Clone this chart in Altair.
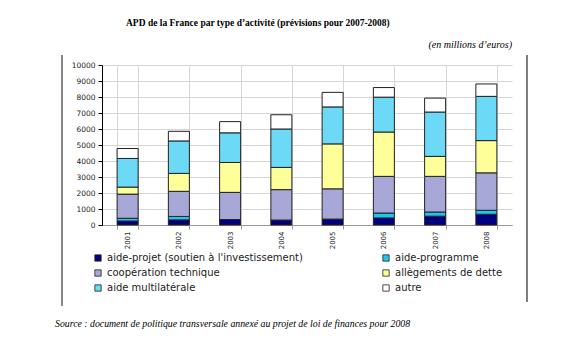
import altair as alt
import pandas as pd

years = ["2001", "2002", "2003", "2004", "2005", "2006", "2007", "2008"]
categories = [
    "aide-projet (soutien à l'investissement)",
    "aide-programme",
    "coopération technique",
    "allègements de dette",
    "aide multilatérale",
    "autre",
]
colors = ["#000080", "#22c4ee", "#a8a8d8", "#ffff99", "#6cdaf7", "#ffffff"]

projet = [250, 320, 340, 310, 370, 440, 550, 670]
programme = [170, 215, 0, 0, 0, 310, 260, 250]
cooperation = [1510, 1570, 1700, 1900, 1890, 2290, 2230, 2340]
allegements = [440, 1120, 1870, 1390, 2810, 2770, 1250, 2015]
multilaterale = [1790, 2030, 1850, 2400, 2310, 2180, 2770, 2765]
autre = [620, 600, 700, 890, 910, 600, 870, 775]
y_ticks = [0, 1000, 2000, 3000, 4000, 5000, 6000, 7000, 8000, 9000, 10000]

title_text = "APD de la France par type d\u2019activité (prévisions pour 2007-2008)"
unit_text = "(en millions d\u2019euros)"
source_text = "Source : document de politique transversale annexé au projet de loi de finances pour 2008"

series = [projet, programme, cooperation, allegements, multilaterale, autre]
rows = []
for ci, (cat, vals) in enumerate(zip(categories, series)):
    for yr, v in zip(years, vals):
        rows.append({"annee": yr, "type": cat, "valeur": v, "ordre": ci})
df = pd.DataFrame(rows)

W, H = 410, 160
PL, PT = 102, 65

bars = alt.Chart(df).mark_bar(stroke="#222222", strokeWidth=1).encode(
    x=alt.X(
        "annee:N", sort=years, title=None,
        scale=alt.Scale(paddingInner=0.59, paddingOuter=0.295),
        axis=alt.Axis(
            labelAngle=270, tickBand="extent", grid=True, gridColor="#d6d6d6",
            domainColor="#999999", tickColor="#999999", tickSize=4,
            labelFont="DejaVu Sans", labelFontSize=7, labelColor="#222222",
            labelPadding=2,
        ),
    ),
    y=alt.Y(
        "valeur:Q", stack="zero", title=None,
        scale=alt.Scale(domain=[0, 10000], nice=False),
        axis=alt.Axis(
            values=y_ticks, format="d", grid=True, gridColor="#d6d6d6",
            domainColor="#000000", tickColor="#000000", tickSize=4,
            labelFont="DejaVu Sans", labelFontSize=7.5, labelColor="#222222",
            labelPadding=3,
        ),
    ),
    color=alt.Color(
        "type:N", sort=categories,
        scale=alt.Scale(domain=categories, range=colors),
        legend=alt.Legend(
            title=None, orient="none", legendX=-9, legendY=188, columns=2,
            direction="horizontal",
            columnPadding=78, rowPadding=5, symbolType="square", symbolSize=40,
            symbolStrokeColor="#222222", symbolStrokeWidth=0.8, labelOffset=4,
            labelFont="DejaVu Sans", labelFontSize=10, labelColor="#222222",
            labelLimit=400, padding=0,
        ),
    ),
    order=alt.Order("ordre:Q", sort="ascending"),
)

def text_layer(txt, x, y, size, weight="normal", style="normal", align="left", font="Liberation Serif"):
    return alt.Chart(pd.DataFrame({"t": [txt]})).mark_text(
        font=font, fontSize=size, fontWeight=weight, fontStyle=style,
        align=align, baseline="middle", color="#000000",
    ).encode(x=alt.value(x), y=alt.value(y), text="t:N")

title = text_layer(title_text, 126 - PL, 23 - PT, 9.5, weight="bold")
unit = text_layer(unit_text, 512 - PL, 45 - PT, 10, style="italic", align="right")
source = text_layer(source_text, 55 - PL, 324 - PT, 9.8, style="italic")

left_frame = alt.Chart(pd.DataFrame({"a": [0]})).mark_rule(color="#888888", strokeWidth=2).encode(
    x=alt.value(62 - PL), y=alt.value(55 - PT), y2=alt.value(306 - PT)
)
right_frame = alt.Chart(pd.DataFrame({"a": [0]})).mark_rule(color="#000000", strokeWidth=1).encode(
    x=alt.value(527 - PL), y=alt.value(55 - PT), y2=alt.value(302 - PT)
)

chart = alt.layer(bars, title, unit, source, left_frame, right_frame).properties(
    width=W, height=H,
    padding={"left": PL, "top": PT, "right": 570 - PL - W, "bottom": 341 - PT - H},
    autosize=alt.AutoSizeParams(type="none"),
    background="#ffffff",
).configure_view(stroke=None)

chart.save("out.html", embed_options={"renderer": "svg", "actions": False})
